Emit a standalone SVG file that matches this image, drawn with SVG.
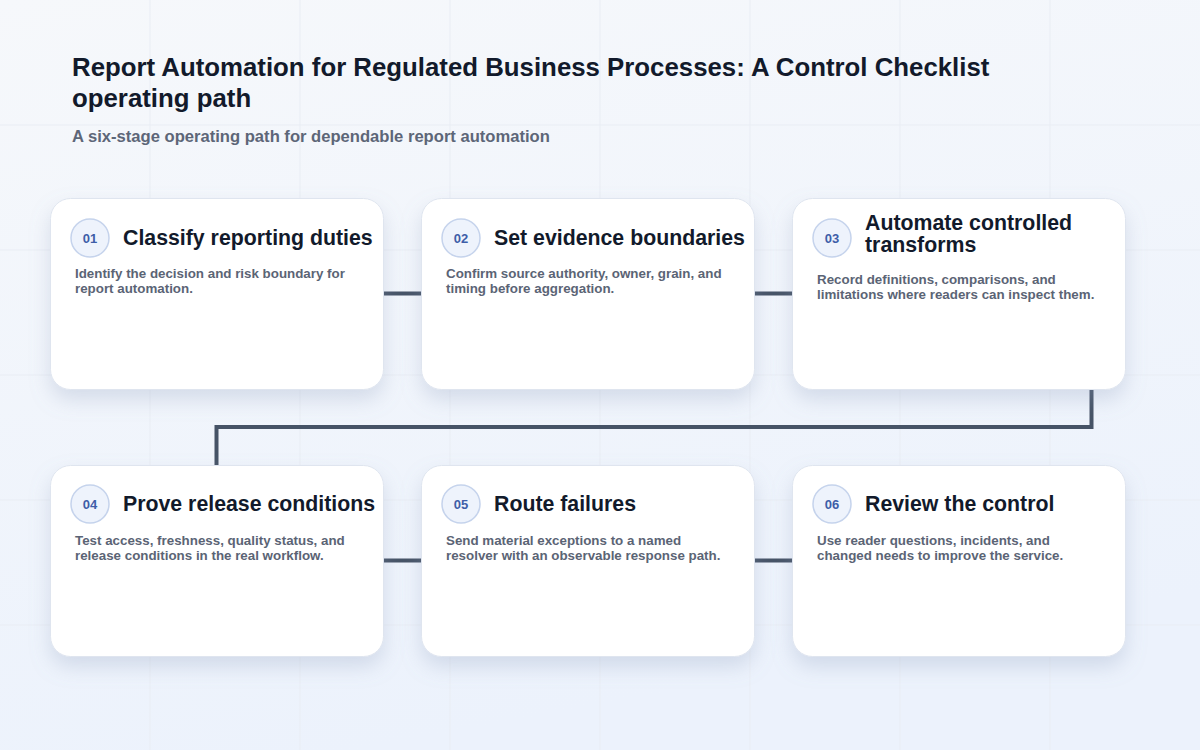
<svg xmlns="http://www.w3.org/2000/svg" width="1200" height="750" viewBox="0 0 1200 750">
<defs>
<linearGradient id="bg" x1="0" y1="0" x2="0.3" y2="1">
<stop offset="0" stop-color="#f6f8fb"/>
<stop offset="1" stop-color="#ecf2fc"/>
</linearGradient>
<filter id="shadow" x="-20%" y="-20%" width="140%" height="150%">
<feDropShadow dx="0" dy="10" stdDeviation="10" flood-color="#8b9bbb" flood-opacity="0.28"/>
</filter>
<style>
.title{font-family:"Liberation Sans",Arial,sans-serif;font-weight:bold;font-size:25.8px;fill:#121a2b}
.sub{font-family:"Liberation Sans",Arial,sans-serif;font-weight:bold;font-size:16.6px;fill:#5d6678}
.card{fill:#ffffff;stroke:#dfe5ef;stroke-width:1;filter:url(#shadow)}
.badge{fill:#eef3fc;stroke:#c5d3ec;stroke-width:1.5}
.num{font-family:"Liberation Sans",Arial,sans-serif;font-weight:bold;font-size:13px;fill:#3e5ea8;text-anchor:middle}
.h{font-family:"Liberation Sans",Arial,sans-serif;font-weight:bold;font-size:21.3px;fill:#121a2b}
.d{font-family:"Liberation Sans",Arial,sans-serif;font-weight:bold;font-size:13.35px;fill:#5b6475}
.grid{stroke:#e9edf4;stroke-width:1}
.conn{fill:none;stroke:#465366;stroke-width:4}
</style>
</defs>
<rect width="1200" height="750" fill="url(#bg)"/>
<g id="grid" class="grid">
<line x1="150" y1="0" x2="150" y2="750"/>
<line x1="300" y1="0" x2="300" y2="750"/>
<line x1="450" y1="0" x2="450" y2="750"/>
<line x1="600" y1="0" x2="600" y2="750"/>
<line x1="750" y1="0" x2="750" y2="750"/>
<line x1="900" y1="0" x2="900" y2="750"/>
<line x1="1050" y1="0" x2="1050" y2="750"/>
<line x1="0" y1="125" x2="1200" y2="125"/>
<line x1="0" y1="250" x2="1200" y2="250"/>
<line x1="0" y1="375" x2="1200" y2="375"/>
<line x1="0" y1="500" x2="1200" y2="500"/>
<line x1="0" y1="625" x2="1200" y2="625"/>
</g>
<g id="header">
<text class="title" x="72" y="76">Report Automation for Regulated Business Processes: A Control Checklist</text>
<text class="title" x="72" y="107">operating path</text>
<text class="sub" x="72" y="142">A six-stage operating path for dependable report automation</text>
</g>
<g id="connectors">
<line class="conn" x1="383" y1="293.5" x2="421" y2="293.5"/>
<line class="conn" x1="754" y1="293.5" x2="792" y2="293.5"/>
<polyline class="conn" points="1091.5,389 1091.5,427 216.5,427 216.5,465"/>
<line class="conn" x1="383" y1="560.5" x2="421" y2="560.5"/>
<line class="conn" x1="754" y1="560.5" x2="792" y2="560.5"/>
</g>
<g id="node1">
<rect class="card" x="50.5" y="198.5" width="333" height="191" rx="20"/>
<circle class="badge" cx="90" cy="238" r="19"/>
<text class="num" x="90" y="243">01</text>
<text class="h" x="123" y="245">Classify reporting duties</text>
<text class="d" x="75" y="278">Identify the decision and risk boundary for</text>
<text class="d" x="75" y="293">report automation.</text>
</g>
<g id="node2">
<rect class="card" x="421.5" y="198.5" width="333" height="191" rx="20"/>
<circle class="badge" cx="461" cy="238" r="19"/>
<text class="num" x="461" y="243">02</text>
<text class="h" x="494" y="245">Set evidence boundaries</text>
<text class="d" x="446" y="278">Confirm source authority, owner, grain, and</text>
<text class="d" x="446" y="293">timing before aggregation.</text>
</g>
<g id="node3">
<rect class="card" x="792.5" y="198.5" width="333" height="191" rx="20"/>
<circle class="badge" cx="832" cy="238" r="19"/>
<text class="num" x="832" y="243">03</text>
<text class="h" x="865" y="230">Automate controlled</text>
<text class="h" x="865" y="252">transforms</text>
<text class="d" x="817" y="284">Record definitions, comparisons, and</text>
<text class="d" x="817" y="299">limitations where readers can inspect them.</text>
</g>
<g id="node4">
<rect class="card" x="50.5" y="465.5" width="333" height="191" rx="20"/>
<circle class="badge" cx="90" cy="504" r="19"/>
<text class="num" x="90" y="509">04</text>
<text class="h" x="123" y="511">Prove release conditions</text>
<text class="d" x="75" y="545">Test access, freshness, quality status, and</text>
<text class="d" x="75" y="560">release conditions in the real workflow.</text>
</g>
<g id="node5">
<rect class="card" x="421.5" y="465.5" width="333" height="191" rx="20"/>
<circle class="badge" cx="461" cy="504" r="19"/>
<text class="num" x="461" y="509">05</text>
<text class="h" x="494" y="511">Route failures</text>
<text class="d" x="446" y="545">Send material exceptions to a named</text>
<text class="d" x="446" y="560">resolver with an observable response path.</text>
</g>
<g id="node6">
<rect class="card" x="792.5" y="465.5" width="333" height="191" rx="20"/>
<circle class="badge" cx="832" cy="504" r="19"/>
<text class="num" x="832" y="509">06</text>
<text class="h" x="865" y="511">Review the control</text>
<text class="d" x="817" y="545">Use reader questions, incidents, and</text>
<text class="d" x="817" y="560">changed needs to improve the service.</text>
</g>
</svg>
